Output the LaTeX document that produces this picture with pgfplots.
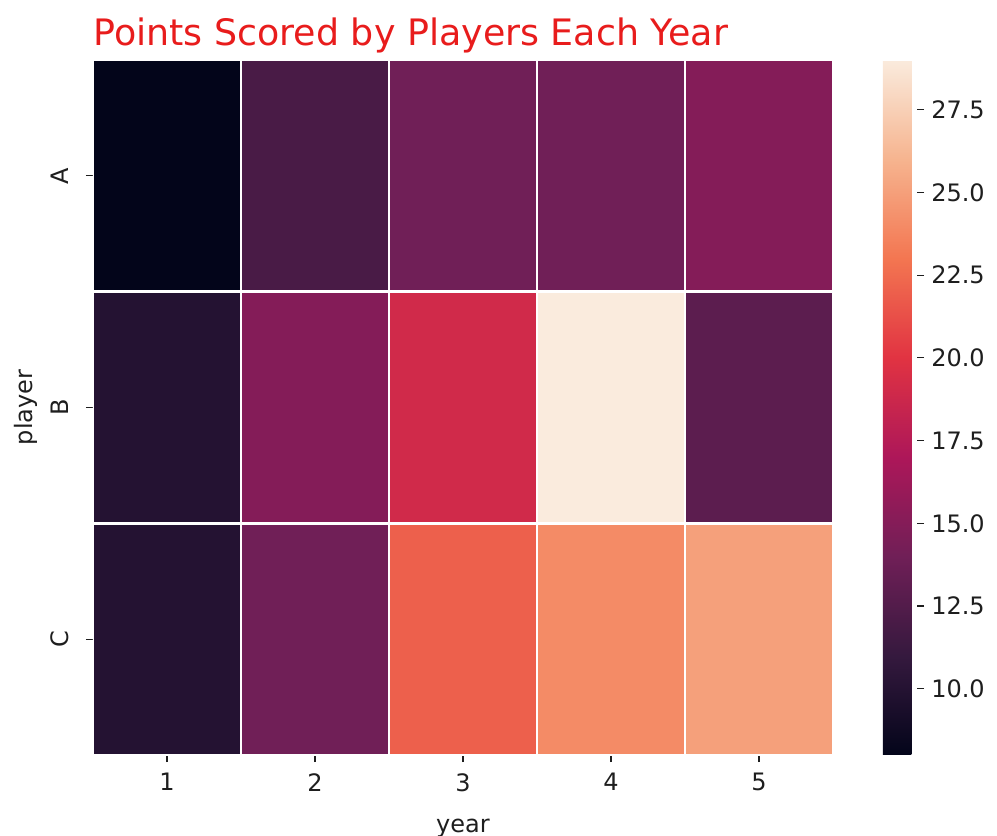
\documentclass[border=0pt]{standalone}
\usepackage{pgfplots}
\pgfplotsset{compat=1.18}
\usepackage{fontspec}
\setmainfont{DejaVu Sans}
\definecolor{titlered}{RGB}{232,28,28}
\definecolor{txt}{RGB}{30,30,30}
\begin{document}
\begin{tikzpicture}
\begin{axis}[
  name=main,
  scale only axis,
  width=370pt, height=347.5pt,
  xmin=0.5, xmax=5.5, ymin=0.5, ymax=3.5,
  y dir=reverse,
  enlargelimits=false,
  axis line style={draw=none},
  tick pos=left,
  tick align=outside,
  major tick length=3.6pt,
  tick style={txt, line width=0.6pt},
  xtick={1,2,3,4,5},
  ytick={1,2,3}, yticklabels={A,B,C},
  yticklabel style={rotate=90, anchor=south},
  /pgf/number format/assume math mode=true,
  ticklabel style={font=\fontsize{12}{14}\selectfont, text=txt},
  xticklabel style={yshift=-2pt},
  yticklabel style={yshift=5pt},
  xlabel={year}, ylabel={player},
  label style={font=\fontsize{12}{14}\selectfont, text=txt},
  xlabel style={yshift=-7pt},
  ylabel style={yshift=-0.5pt},
  title={Points Scored by Players Each Year},
  title style={at={(0,1)}, anchor=base west, font=\fontsize{18.2}{21}\selectfont, text=titlered, inner xsep=0pt, yshift=1.5pt},
  colormap={rocket}{rgb255=(3,5,26) rgb255=(53,25,62) rgb255=(112,31,87) rgb255=(173,23,89) rgb255=(225,51,66) rgb255=(243,118,81) rgb255=(246,180,143) rgb255=(250,235,221)},
  point meta min=8, point meta max=29,
  colorbar,
  colorbar shift/.style={xshift=25pt},
  colorbar style={
    width=17pt,
    axis line style={draw=none},
    ytick={10,12.5,15,17.5,20,22.5,25,27.5},
    /pgf/number format/assume math mode=true,
    yticklabel style={font=\fontsize{12}{14}\selectfont, text=txt, /pgf/number format/.cd, fixed, fixed zerofill, precision=1, assume math mode=true},
    tick pos=right,
    tick align=outside,
    major tick length=3.6pt,
    tick style={txt, line width=0.6pt},
  },
]
\addplot[matrix plot*, mesh/cols=5, point meta=explicit, draw=white, line width=1.3pt] table[meta=v] {
x y v
1 1 8
2 1 12
3 1 14
4 1 14
5 1 15
1 2 10
2 2 15
3 2 19
4 2 29
5 2 13
1 3 10
2 3 14
3 3 22
4 3 24
5 3 25
};
\end{axis}
\pgfresetboundingbox
\path (main.south west) ++(-46.5pt,-40.5pt) rectangle ++(498.5pt,418pt);
\end{tikzpicture}
\end{document}
